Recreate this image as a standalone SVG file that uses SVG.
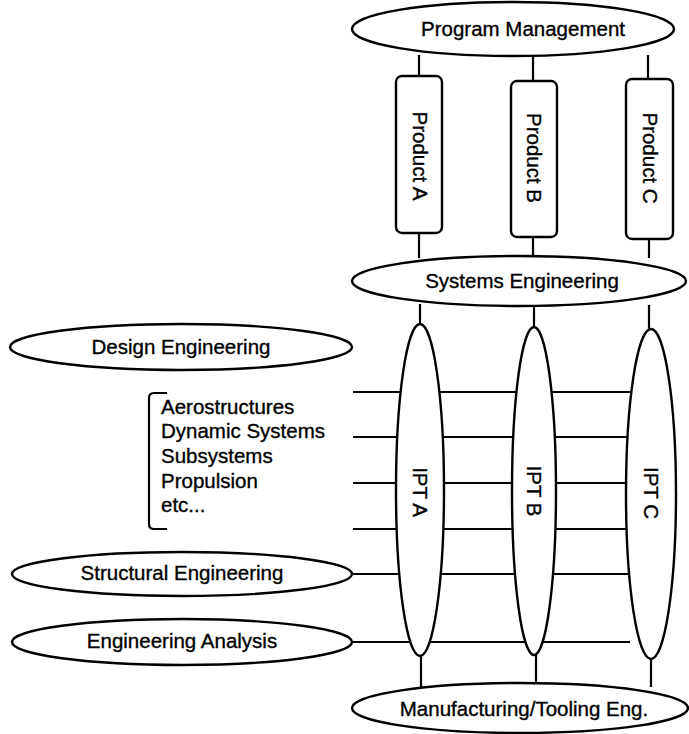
<svg xmlns="http://www.w3.org/2000/svg" width="689" height="734" viewBox="0 0 689 734">
<style>
.shape{fill:#fff;stroke:#000;stroke-width:2.4}
.ln{stroke:#000;stroke-width:2.2;fill:none}
.t{font-family:"Liberation Sans",Arial,sans-serif;font-size:20.5px;fill:#000;stroke:#000;stroke-width:0.35}
.m{text-anchor:middle}
</style>
<rect width="689" height="734" fill="#fff"/>
<g id="connectors" class="ln">
  <line x1="419" y1="55" x2="419" y2="77"/>
  <line x1="533" y1="55" x2="533" y2="82"/>
  <line x1="648" y1="55" x2="648" y2="80"/>
  <line x1="419" y1="233" x2="419" y2="258"/>
  <line x1="533" y1="237" x2="533" y2="258"/>
  <line x1="649" y1="239" x2="649" y2="258"/>
  <line x1="420" y1="304" x2="420" y2="324"/>
  <line x1="534" y1="305" x2="534" y2="328"/>
  <line x1="649" y1="305" x2="649" y2="330"/>
  <line x1="421" y1="655" x2="421" y2="688"/>
  <line x1="536" y1="654" x2="536" y2="687"/>
  <line x1="651" y1="657" x2="651" y2="687"/>
  <line x1="353" y1="392" x2="630" y2="392"/>
  <line x1="353" y1="437" x2="630" y2="437"/>
  <line x1="353" y1="483" x2="630" y2="483"/>
  <line x1="353" y1="529" x2="630" y2="529"/>
  <line x1="351" y1="574" x2="630" y2="574"/>
  <line x1="352" y1="642" x2="630" y2="642"/>
</g>
<g id="program-management">
  <ellipse class="shape" cx="513" cy="29" rx="161" ry="27"/>
  <text class="t m" x="523" y="36">Program Management</text>
</g>
<g id="product-a">
  <rect class="shape" x="396" y="76" width="46" height="157" rx="6"/>
  <text class="t m" transform="translate(420,156) rotate(90)" y="7">Product A</text>
</g>
<g id="product-b">
  <rect class="shape" x="511" y="81" width="46" height="156" rx="6"/>
  <text class="t m" transform="translate(534,158) rotate(90)" y="7">Product  B</text>
</g>
<g id="product-c">
  <rect class="shape" x="626" y="79" width="47" height="160" rx="6"/>
  <text class="t m" transform="translate(650,158) rotate(90)" y="7">Product  C</text>
</g>
<g id="systems-engineering">
  <ellipse class="shape" cx="519" cy="281" rx="167" ry="25"/>
  <text class="t m" x="522" y="288">Systems Engineering</text>
</g>
<g id="ipt-a">
  <ellipse class="shape" cx="420" cy="490" rx="24" ry="166"/>
  <text class="t m" transform="translate(420,492) rotate(90)" y="7">IPT A</text>
</g>
<g id="ipt-b">
  <ellipse class="shape" cx="534" cy="491" rx="22" ry="164"/>
  <text class="t m" transform="translate(534,491) rotate(90)" y="7">IPT B</text>
</g>
<g id="ipt-c">
  <ellipse class="shape" cx="651" cy="494" rx="25" ry="165"/>
  <text class="t m" transform="translate(651,493) rotate(90)" y="7">IPT C</text>
</g>
<g id="design-engineering">
  <ellipse class="shape" cx="181" cy="347" rx="171" ry="23"/>
  <text class="t m" x="181" y="354">Design Engineering</text>
</g>
<g id="disciplines">
  <path class="ln" d="M167,393 L154,393 Q149,393 149,398 L149,524 Q149,529 154,529 L167,529"/>
  <text class="t" x="161" y="414">Aerostructures</text>
  <text class="t" x="161" y="438">Dynamic Systems</text>
  <text class="t" x="161" y="463">Subsystems</text>
  <text class="t" x="161" y="488">Propulsion</text>
  <text class="t" x="161" y="512">etc...</text>
</g>
<g id="structural-engineering">
  <ellipse class="shape" cx="182" cy="574" rx="170" ry="22"/>
  <text class="t m" x="182" y="580">Structural Engineering</text>
</g>
<g id="engineering-analysis">
  <ellipse class="shape" cx="182" cy="642" rx="170" ry="23"/>
  <text class="t m" x="182" y="648">Engineering Analysis</text>
</g>
<g id="manufacturing">
  <ellipse class="shape" cx="520" cy="708" rx="168" ry="25"/>
  <text class="t m" x="524" y="716">Manufacturing/Tooling Eng.</text>
</g>
</svg>
